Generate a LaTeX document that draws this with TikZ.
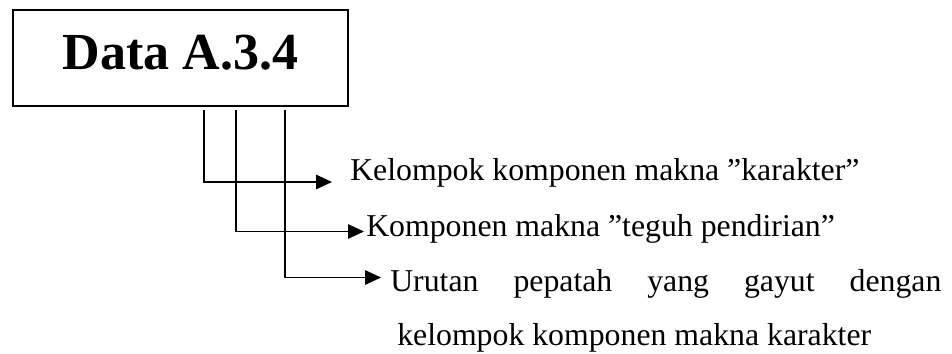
\documentclass[tikz,border=0pt]{standalone}
\usepackage{fontspec}
\setmainfont{Liberation Serif}
\usetikzlibrary{arrows.meta}
\begin{document}
\begin{tikzpicture}[x=0.025cm,y=-0.025cm,
  databox/.style={draw,line width=1.6pt,minimum width=8.375cm,minimum height=2.4cm,inner sep=0pt,
    font=\fontsize{37pt}{40pt}\selectfont\bfseries,text depth=0.3cm},
  label/.style={anchor=base west,inner sep=0pt,font=\fontsize{22.6pt}{27pt}\selectfont},
  link/.style={line width=1.3pt,-{Triangle[length=0.4cm,width=0.36cm]}}]
\useasboundingbox (0,0) rectangle (952,354);
\node[databox] (title) at (180.5,58) {Data A.3.4};
\node[label] (k1) at (350,180) {Kelompok komponen makna ”karakter”};
\node[label] (k2) at (366,236) {Komponen makna ”teguh pendirian”};
\node[label] (k3) at (390,291) {\makebox[13.775cm][s]{Urutan pepatah yang gayut dengan}};
\node[label] (k4) at (397,345) {kelompok komponen makna karakter};
\coordinate (s1) at (204,110);
\coordinate (s2) at (236,110);
\coordinate (s3) at (285,110);
\coordinate (t1) at (332,182);
\coordinate (t2) at (364,231.5);
\coordinate (t3) at (381,277.5);
\draw[link] (s1) |- (t1);
\draw[link] (s2) |- (t2);
\draw[link] (s3) |- (t3);
\end{tikzpicture}
\end{document}
